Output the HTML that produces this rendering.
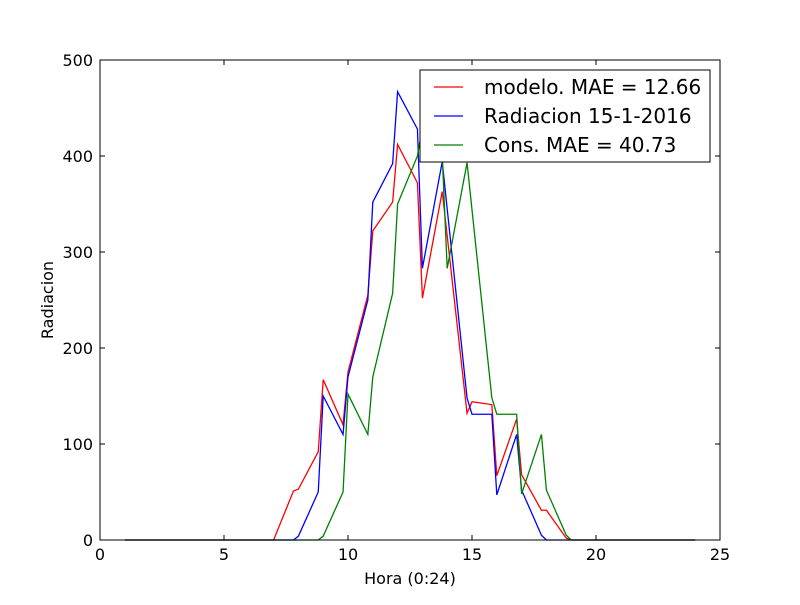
<!DOCTYPE html>
<html><head><meta charset="utf-8"><style>
body{margin:0;background:#fff}
svg text{font-family:"DejaVu Sans","Liberation Sans",sans-serif}
</style></head><body>
<svg id="chart" width="800" height="600" xmlns="http://www.w3.org/2000/svg">
<rect width="800" height="600" fill="#fff"/>
<g id="plot"></g>
<rect x="100" y="60" width="620" height="480" fill="none" stroke="#000" stroke-width="1"/>
<g id="ticks"></g>
<text x="410" y="584" font-size="16" text-anchor="middle">Hora (0:24)</text>
<text x="53" y="300" font-size="16" text-anchor="middle" transform="rotate(-90 53 300)">Radiacion</text>
<g>
<rect x="420" y="70" width="290" height="92" fill="#fff" stroke="#000" stroke-width="1"/>
<line x1="434" y1="87" x2="463" y2="87" stroke="#ff0000" stroke-width="1.3"/>
<text x="484" y="94" font-size="20">modelo. MAE = 12.66</text>
<line x1="434" y1="116" x2="463" y2="116" stroke="#0000ff" stroke-width="1.3"/>
<text x="484" y="123" font-size="20">Radiacion 15-1-2016</text>
<line x1="434" y1="145" x2="463" y2="145" stroke="#008000" stroke-width="1.3"/>
<text x="484" y="152" font-size="20">Cons. MAE = 40.73</text>
</g>
</svg>
<script>
const xTicks=[0,5,10,15,20,25];
const yTicks=[0,100,200,300,400,500];
const redX=[1,7,7.8,8,8.8,9,9.8,10,10.8,11,11.8,12,12.8,13,13.8,14.8,15,15.8,16,16.8,17,17.8,18,18.8,19,24];
const redY=[0,0,51,53,92,167,120,175,255,322,352,412,372,252,363,132,144,141,67,126,68,31,31,2,0,0];
const blueX=[1,7.8,8,8.8,9,9.8,10,10.8,11,11.8,12,12.8,13,13.8,14.8,15,15.8,16,16.8,17,17.8,18,24];
const blueY=[0,0,4,50,150,110,170,250,352,392,467,428,283,394,148,131,131,47,110,52,5,0,0];
const greenX=[1,8.8,9,9.8,10,10.8,11,11.8,12,12.8,13,13.8,14,14.8,15.8,16,16.8,17,17.8,18,18.8,19,24];
const greenY=[0,0,4,50,152,110,170,257,350,400,430,400,283,393,148,131,131,48,110,52,5,0,0];
const NS="http://www.w3.org/2000/svg";
const sx=v=>100+v*620/25, sy=v=>540-v*480/500;
const plot=document.getElementById('plot'), ticks=document.getElementById('ticks');
function line(xs,ys,color,name){
  const p=document.createElementNS(NS,'polyline');
  p.setAttribute('points',xs.map((x,i)=>sx(x)+','+sy(ys[i])).join(' '));
  p.setAttribute('fill','none');p.setAttribute('stroke',color);p.setAttribute('stroke-width','1.3');
  
  
  plot.appendChild(p);
}
line(redX,redY,'#ff0000','series-modelo');
line(blueX,blueY,'#0000ff','series-radiacion');
line(greenX,greenY,'#008000','series-cons');
function mk(tag,attrs){const e=document.createElementNS(NS,tag);for(const k in attrs)e.setAttribute(k,attrs[k]);ticks.appendChild(e);return e;}
xTicks.forEach(v=>{
  const x=sx(v);
  mk('line',{x1:x,y1:540,x2:x,y2:535,stroke:'#000'});
  mk('line',{x1:x,y1:60,x2:x,y2:65,stroke:'#000'});
  const t=mk('text',{x:x,y:560,'font-size':16,'text-anchor':'middle'});t.textContent=v;
  
  
});
yTicks.forEach(v=>{
  const y=sy(v);
  mk('line',{x1:100,y1:y,x2:105,y2:y,stroke:'#000'});
  mk('line',{x1:720,y1:y,x2:715,y2:y,stroke:'#000'});
  const t=mk('text',{x:93,y:y+6,'font-size':16,'text-anchor':'end'});t.textContent=v;
  
  
});
</script>
</body></html>
